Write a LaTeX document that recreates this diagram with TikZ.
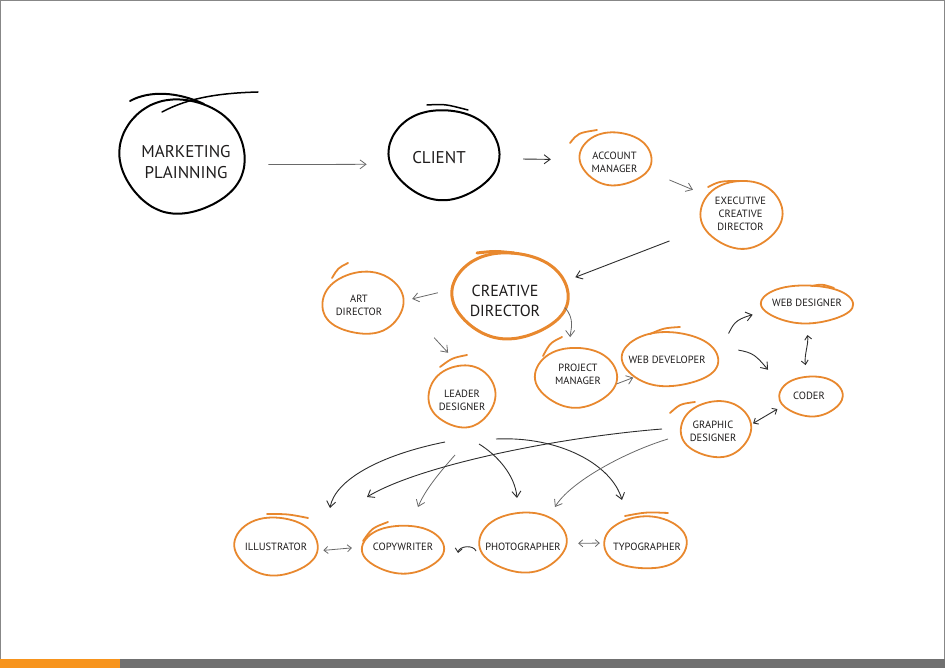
\documentclass[tikz,border=0pt]{standalone}
\usepackage{fontspec}
\setmainfont{PT Sans}
\usetikzlibrary{arrows.meta,shapes.geometric}
\definecolor{orng}{RGB}{232,136,46}
\definecolor{barorange}{RGB}{247,148,29}
\definecolor{bargray}{RGB}{112,112,112}
\definecolor{dk}{RGB}{45,45,45}
\definecolor{lt}{RGB}{105,105,105}
\definecolor{txt}{RGB}{30,28,28}
\newcommand{\bubbig}{\fontsize{17}{21}\selectfont}
\newcommand{\bubmid}{\fontsize{16}{20}\selectfont}
\newcommand{\bubsmall}{\fontsize{10.5}{12.8}\selectfont}
% #1 ring style, #2 name, #3 centre, #4 width, #5 height, #6 phase, #7 label options, #8 text
\newcommand{\bubble}[8][]{%
  \node[bubshape, minimum width=#4pt, minimum height=#5pt,
        label={[bubtext,#7]center:#8}] (#2) at (#3) {};
  \draw[#1, shift={(#2.center)}] plot[smooth cycle, samples=30, domain=0:348]
    ({#4/2*(1+0.03*sin(2*\x+#6))*cos(\x)}, {#5/2*(1+0.03*cos(3*\x+#6))*sin(\x)});
}
\begin{document}
\begin{tikzpicture}[x=1pt,y=-1pt,
  bubshape/.style={ellipse, draw=none, inner sep=0pt},
  bubtext/.style={inner sep=0pt, align=center, text=txt},
  kring/.style={draw=black, line width=2pt, line cap=round},
  oring/.style={draw=orng, line width=1.8pt, line cap=round},
  cring/.style={draw=orng, line width=3pt, line cap=round},
  tip/.style={-{Straight Barb[length=6pt,width=9pt]}},
  con/.style={draw=dk, line width=0.9pt, tip},
  conl/.style={draw=lt, line width=0.8pt, tip},
  conb/.style={draw=lt, line width=0.8pt, {Straight Barb[length=4pt,width=7pt]}-{Straight Barb[length=4pt,width=7pt]}},
  conbd/.style={draw=dk, line width=0.9pt, {Straight Barb[length=4pt,width=7pt]}-{Straight Barb[length=4pt,width=7pt]}}
]
\useasboundingbox (0,0) rectangle (945,668);
% page frame and bottom bar
\draw[draw=lt!80, line width=1pt] (0.5,659) -- (0.5,0.5) -- (944.5,0.5) -- (944.5,659);
\fill[barorange] (0,659) rectangle (120,668);
\fill[bargray] (120,659) rectangle (945,668);

% bubbles
\bubble[kring]{mp}{182,156}{124}{114}{20}{shift={(4,6)},font=\bubbig}{MARKETING\\PLAINNING}
\bubble[kring]{cl}{444,154}{108}{90}{70}{shift={(-5,4)},font=\bubbig}{CLIENT}
\bubble[oring]{am}{615.5,158.5}{71}{53}{30}{shift={(-1,4)},font=\bubsmall}{ACCOUNT\\MANAGER}
\bubble[oring]{ecd}{741.5,214}{80}{68}{110}{shift={(-1,0)},font=\bubsmall}{EXECUTIVE\\CREATIVE\\DIRECTOR}
\bubble[cring]{cd}{510,295}{114}{86}{45}{shift={(-5,6)},font=\bubmid}{CREATIVE\\DIRECTOR}
\bubble[oring]{art}{363,303}{82}{62}{200}{shift={(-4,2)},font=\bubsmall}{ART\\DIRECTOR}
\bubble[oring]{ld}{462,396}{66}{62}{150}{shift={(0,4)},font=\bubsmall}{LEADER\\DESIGNER}
\bubble[oring]{pm}{576,377}{80}{60}{80}{shift={(2,-3)},font=\bubsmall}{PROJECT\\MANAGER}
\bubble[oring]{wdev}{670,359}{96}{54}{10}{shift={(-3,1)},font=\bubsmall}{WEB DEVELOPER}
\bubble[oring]{wdes}{807,304}{90}{38}{60}{shift={(0,-1)},font=\bubsmall}{WEB DESIGNER}
\bubble[oring]{cod}{811,396}{62}{40}{120}{shift={(-2,0)},font=\bubsmall}{CODER}
\bubble[oring]{gd}{716,429}{70}{56}{170}{shift={(-3,2)},font=\bubsmall}{GRAPHIC\\DESIGNER}
\bubble[oring]{ill}{276,546}{82}{58}{40}{shift={(0,1)},font=\bubsmall}{ILLUSTRATOR}
\bubble[oring]{cop}{403,549}{80}{48}{100}{shift={(0,-2)},font=\bubsmall}{COPYWRITER}
\bubble[oring]{pho}{523,542}{86}{60}{140}{shift={(0,5)},font=\bubsmall}{PHOTOGRAPHER}
\bubble[oring]{typ}{645.5,543}{85}{52}{250}{shift={(1.5,4)},font=\bubsmall}{TYPOGRAPHER}

% sketch overshoots of the rings
\draw[kring] (130,101) .. controls (150,90) and (178,92) .. (204,104);
\draw[kring, line width=1.5pt] (162,112) .. controls (190,97) and (222,93) .. (258,92);
\draw[kring, line width=1.5pt] (427,105) .. controls (445,104) .. (468,110);
\draw[oring] (570,143) .. controls (578,133) .. (597,130);
\draw[oring] (708,187) .. controls (720,181) .. (741,181);
\draw[cring] (477,253) .. controls (495,251) .. (514,253);
\draw[oring] (332,278) .. controls (338,268) .. (348,263);
\draw[oring] (440,367) .. controls (452,358) .. (467,355);
\draw[oring] (543,356) .. controls (550,343) .. (562,337);
\draw[oring] (650,334) .. controls (664,328) .. (680,327);
\draw[oring] (812,286) .. controls (822,284) .. (834,288);
\draw[oring] (670,413) .. controls (680,404) .. (695,402);
\draw[oring] (267,514) .. controls (288,514) .. (308,518);
\draw[oring] (363,541) .. controls (372,528) .. (388,522);
\draw[oring] (625,516) .. controls (646,512) .. (668,513);

% connectors between neighbouring bubbles
\draw[conl, shorten <=25pt, shorten >=24.6pt] (mp.-8.4) -- (cl.191.9);
\draw[con, shorten <=25.3pt, shorten >=29pt] (cl.-5.3) -- (am.182.4);
\draw[conl, shorten <=24pt, shorten >=15.7pt] (am.-21.5) -- (ecd.152.1);
\draw[con, shorten <=37.5pt, shorten >=11.8pt] (ecd.200.6) -- (cd.14.4);
\draw[conl, shorten <=16pt, shorten >=8.3pt] (cd.174.3) -- (art.3);
\draw[conl, shorten <=44.3pt, shorten >=16.5pt] (art.-3.6) -- (ld.95);
\draw[conl, shorten >=10pt] (cd.-13) to[out=-45,in=90] (pm.101.4);
\draw[conl, shorten <=2pt, shorten >=1pt] (pm.-11) -- (wdev.207);
\draw[con, shorten <=22.8pt, shorten >=13pt] (wdev.7.7) to[out=60,in=195,looseness=1.3] (wdes.190.4);
\draw[con, shorten <=27pt, shorten >=23pt] (wdev.18.3) to[out=-10,in=130,looseness=1.3] (cod.163.4);
\draw[conbd, shorten <=12pt, shorten >=11pt] (wdes.-95) to[out=-80,in=100] (cod.100);
\draw[conbd, shorten <=7pt, shorten >=2.6pt] (cod.199.4) -- (gd.7.7);
\draw[conb, shorten <=6.8pt, shorten >=11.1pt] (ill.-7.3) -- (cop.177.8);
\draw[conb, shorten <=12pt, shorten >=3pt] (pho.-2) -- (typ.180);

% short curl between copywriter and photographer (free ends)
\coordinate (copR) at (458,553); \coordinate (phoL) at (476,551);
\draw[draw=dk, line width=0.9pt, {Straight Barb[length=4pt,width=7pt]}-] (copR) to[bend left=75] (phoL);

% fan-out arrows (free ends)
\coordinate (ldA) at (445,442); \coordinate (illT) at (330,508);
\coordinate (ldB) at (455,455); \coordinate (copT) at (418,507);
\coordinate (ldC) at (479,444); \coordinate (phoT) at (517,498);
\coordinate (ldD) at (496,439); \coordinate (typT) at (622,500);
\coordinate (gdA) at (662,429); \coordinate (copU) at (367,497);
\coordinate (gdB) at (668,439); \coordinate (phoU) at (555,507);
\draw[con] (ldA) .. controls (380,455) and (335,480) .. (illT);
\draw[conl] (ldB) .. controls (440,472) and (425,490) .. (copT);
\draw[con] (ldC) .. controls (497,455) and (515,475) .. (phoT);
\draw[con] (ldD) .. controls (560,436) and (612,465) .. (typT);
\draw[con] (gdA) .. controls (560,437) and (420,465) .. (copU);
\draw[conl] (gdB) .. controls (625,452) and (570,482) .. (phoU);
\end{tikzpicture}
\end{document}
